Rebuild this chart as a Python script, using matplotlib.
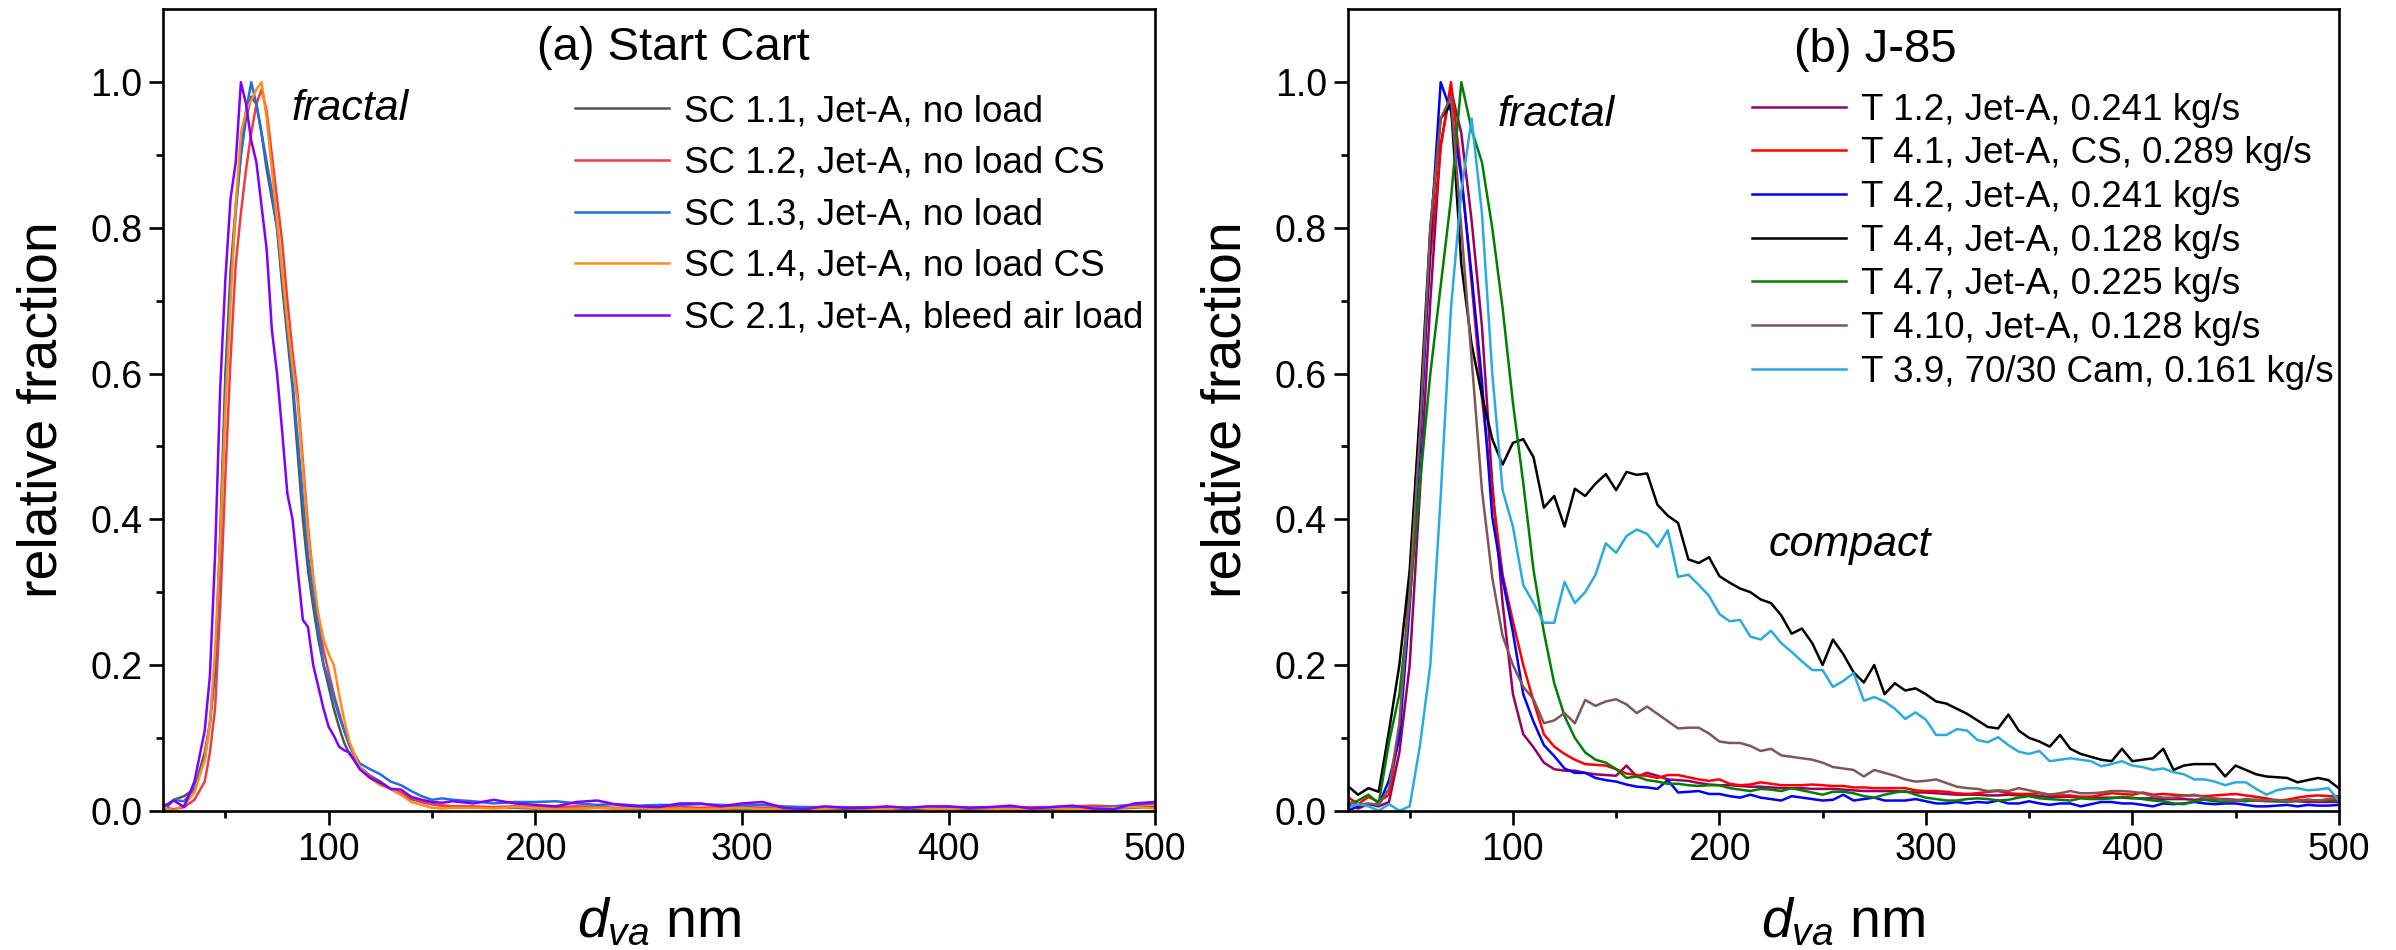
import numpy as np
import matplotlib
matplotlib.use("Agg")
import matplotlib.pyplot as plt

plt.rcParams['font.family'] = ['Liberation Sans', 'DejaVu Sans']
plt.rcParams['mathtext.fontset'] = 'custom'
plt.rcParams['mathtext.rm'] = 'Liberation Sans'
plt.rcParams['mathtext.it'] = 'Liberation Sans:italic'

# ---------------- data: panel (a) Start Cart ----------------
x_left = np.concatenate([np.arange(20, 41, 5), np.arange(42.5, 110.1, 2.5),
                         np.arange(115, 161, 5), np.arange(170, 501, 10)])

sc11 = [0.0, 0.015, 0.02, 0.03, 0.08,
        0.12, 0.19, 0.38, 0.60, 0.74, 0.83, 0.90, 0.95, 0.98, 0.97, 0.93, 0.88, 0.84, 0.80,
        0.72, 0.65, 0.58, 0.49, 0.40, 0.33, 0.28, 0.235, 0.20, 0.17, 0.14, 0.115, 0.093, 0.078,
        0.06, 0.048, 0.04, 0.03, 0.022, 0.016, 0.012, 0.009, 0.007, 0.006,
        0.005, 0.004, 0.004, 0.003, 0.004, 0.003, 0.004, 0.003, 0.003, 0.002, 0.003, 0.003,
        0.002, 0.003, 0.002, 0.002, 0.002, 0.003, 0.002, 0.002, 0.003, 0.002, 0.003, 0.002,
        0.002, 0.003, 0.002, 0.002, 0.003, 0.003, 0.002, 0.003, 0.004, 0.005]
sc12 = [0.005, 0.002, 0.005, 0.015, 0.04,
        0.08, 0.14, 0.28, 0.46, 0.62, 0.75, 0.82, 0.88, 0.93, 0.97, 0.99, 0.96, 0.90, 0.84,
        0.78, 0.70, 0.63, 0.57, 0.48, 0.39, 0.32, 0.26, 0.22, 0.19, 0.16, 0.135, 0.11, 0.09,
        0.06, 0.047, 0.037, 0.03, 0.025, 0.018, 0.012, 0.009, 0.007, 0.006,
        0.006, 0.005, 0.006, 0.005, 0.005, 0.006, 0.005, 0.004, 0.005, 0.006, 0.005, 0.004,
        0.005, 0.005, 0.004, 0.004, 0.005, 0.004, 0.004, 0.005, 0.004, 0.004, 0.005, 0.005,
        0.004, 0.005, 0.004, 0.005, 0.005, 0.006, 0.007, 0.006, 0.008, 0.009]
sc13 = [0.0, 0.015, 0.013, 0.03, 0.07,
        0.12, 0.20, 0.36, 0.58, 0.72, 0.82, 0.90, 0.96, 1.0, 0.97, 0.93, 0.89, 0.85, 0.80,
        0.73, 0.66, 0.59, 0.51, 0.43, 0.35, 0.30, 0.25, 0.20, 0.18, 0.155, 0.13, 0.11, 0.09,
        0.065, 0.057, 0.05, 0.04, 0.035, 0.027, 0.02, 0.015, 0.017, 0.015,
        0.013, 0.01, 0.012, 0.012, 0.013, 0.01, 0.008, 0.009, 0.007, 0.008, 0.008, 0.009,
        0.008, 0.007, 0.008, 0.006, 0.005, 0.005, 0.005, 0.004, 0.005, 0.004, 0.004, 0.005,
        0.004, 0.004, 0.003, 0.003, 0.004, 0.005, 0.004, 0.006, 0.008, 0.012]
sc14 = [0.005, 0.0, 0.008, 0.025, 0.07,
        0.12, 0.22, 0.37, 0.55, 0.70, 0.83, 0.93, 0.96, 0.975, 0.99, 1.0, 0.95, 0.88, 0.81,
        0.74, 0.67, 0.61, 0.56, 0.47, 0.38, 0.32, 0.27, 0.235, 0.215, 0.20, 0.16, 0.125, 0.095,
        0.06, 0.045, 0.035, 0.03, 0.022, 0.012, 0.008, 0.004, 0.003, 0.004,
        0.004, 0.003, 0.005, 0.004, 0.002, 0.003, 0.004, 0.003, 0.004, 0.002, 0.003, 0.002,
        0.003, 0.004, 0.002, 0.003, 0.002, 0.003, 0.004, 0.003, 0.002, 0.005, 0.003, 0.002,
        0.004, 0.003, 0.002, 0.003, 0.004, 0.002, 0.003, 0.004, 0.005, 0.003]
sc21 = [0.006, 0.014, 0.005, 0.04, 0.11,
        0.185, 0.35, 0.58, 0.73, 0.84, 0.89, 1.0, 0.97, 0.92, 0.89, 0.83, 0.77, 0.66, 0.60,
        0.52, 0.435, 0.40, 0.33, 0.262, 0.252, 0.20, 0.17, 0.14, 0.115, 0.103, 0.088, 0.083, 0.08,
        0.057, 0.045, 0.038, 0.03, 0.029, 0.019, 0.015, 0.012, 0.011, 0.013,
        0.01, 0.015, 0.01, 0.008, 0.006, 0.012, 0.014, 0.008, 0.006, 0.005, 0.01, 0.01,
        0.006, 0.01, 0.012, 0.004, 0.002, 0.006, 0.004, 0.004, 0.006, 0.004, 0.006, 0.006,
        0.004, 0.005, 0.007, 0.003, 0.005, 0.007, 0.003, 0.002, 0.01, 0.012]

left_labels = ["SC 1.1, Jet-A, no load", "SC 1.2, Jet-A, no load CS",
               "SC 1.3, Jet-A, no load", "SC 1.4, Jet-A, no load CS",
               "SC 2.1, Jet-A, bleed air load"]
left_colors = ["#555555", "#f03c3c", "#1f6fdc", "#ff8c1a", "#8000ff"]

# ---------------- data: panel (b) J-85 ----------------
x_right = np.arange(20, 501, 5)

t12 = [0.009, 0.003, 0.009, 0.006, 0.012, 0.08, 0.20, 0.44, 0.70, 0.915,
       0.99, 0.93, 0.81, 0.665, 0.449, 0.285, 0.16, 0.105, 0.087, 0.066,
       0.057, 0.055, 0.055, 0.052, 0.05, 0.049, 0.048, 0.062, 0.047, 0.052,
       0.048, 0.043, 0.042, 0.041, 0.038, 0.036, 0.035, 0.035, 0.034, 0.033,
       0.033, 0.032, 0.031, 0.031, 0.031, 0.03, 0.03, 0.03, 0.029, 0.028,
       0.027, 0.027, 0.027, 0.027, 0.026, 0.025, 0.025, 0.024, 0.023, 0.022,
       0.022, 0.022, 0.021, 0.021, 0.022, 0.021, 0.021, 0.02, 0.019, 0.019,
       0.019, 0.019, 0.019, 0.018, 0.018, 0.018, 0.017, 0.017, 0.017, 0.016,
       0.016, 0.016, 0.015, 0.016, 0.016, 0.016, 0.015, 0.014, 0.014, 0.013,
       0.013, 0.013, 0.013, 0.012, 0.012, 0.012, 0.012]
t41 = [0.019, 0.009, 0.019, 0.012, 0.022, 0.108, 0.32, 0.54, 0.76, 0.91,
       1.0, 0.875, 0.724, 0.567, 0.436, 0.324, 0.26, 0.20, 0.15, 0.105,
       0.088, 0.078, 0.07, 0.064, 0.063, 0.062, 0.057, 0.051, 0.049, 0.048,
       0.045, 0.049, 0.049, 0.046, 0.043, 0.041, 0.043, 0.037, 0.035, 0.036,
       0.039, 0.037, 0.035, 0.035, 0.035, 0.036, 0.035, 0.034, 0.034, 0.032,
       0.032, 0.031, 0.031, 0.031, 0.031, 0.028, 0.027, 0.027, 0.026, 0.024,
       0.023, 0.024, 0.026, 0.027, 0.024, 0.023, 0.023, 0.024, 0.022, 0.021,
       0.021, 0.019, 0.019, 0.022, 0.024, 0.023, 0.022, 0.025, 0.022, 0.023,
       0.022, 0.021, 0.021, 0.02, 0.021, 0.022, 0.023, 0.021, 0.019, 0.017,
       0.014, 0.015, 0.018, 0.02, 0.021, 0.02, 0.02]
t42 = [0.0, 0.006, 0.009, 0.008, 0.042, 0.10, 0.28, 0.50, 0.78, 1.0,
       0.96, 0.87, 0.735, 0.59, 0.403, 0.318, 0.245, 0.16, 0.122, 0.09,
       0.075, 0.058, 0.052, 0.052, 0.045, 0.042, 0.04, 0.036, 0.033, 0.032,
       0.03, 0.042, 0.025, 0.026, 0.027, 0.023, 0.023, 0.02, 0.018, 0.022,
       0.018, 0.016, 0.014, 0.02, 0.018, 0.016, 0.014, 0.015, 0.022, 0.014,
       0.016, 0.018, 0.014, 0.014, 0.014, 0.016, 0.013, 0.01, 0.01, 0.012,
       0.01, 0.012, 0.011, 0.014, 0.01, 0.01, 0.013, 0.01, 0.008, 0.01,
       0.01, 0.006, 0.009, 0.012, 0.012, 0.01, 0.01, 0.008, 0.006, 0.01,
       0.009, 0.01, 0.012, 0.01, 0.009, 0.01, 0.01, 0.008, 0.006, 0.006,
       0.007, 0.008, 0.006, 0.008, 0.007, 0.007, 0.008]
t44 = [0.034, 0.022, 0.031, 0.026, 0.11, 0.20, 0.33, 0.55, 0.80, 0.95,
       0.97, 0.75, 0.64, 0.57, 0.51, 0.475, 0.505, 0.51, 0.485, 0.416,
       0.432, 0.39, 0.442, 0.432, 0.449, 0.462, 0.44, 0.465, 0.461, 0.463,
       0.42, 0.405, 0.395, 0.345, 0.34, 0.348, 0.322, 0.313, 0.305, 0.30,
       0.29, 0.285, 0.268, 0.243, 0.25, 0.23, 0.20, 0.235, 0.215, 0.19,
       0.176, 0.20, 0.16, 0.175, 0.165, 0.168, 0.16, 0.15, 0.147, 0.14,
       0.133, 0.124, 0.115, 0.113, 0.132, 0.11, 0.10, 0.095, 0.088, 0.104,
       0.085, 0.078, 0.074, 0.07, 0.068, 0.085, 0.068, 0.07, 0.072, 0.085,
       0.056, 0.062, 0.064, 0.064, 0.064, 0.047, 0.062, 0.056, 0.05, 0.047,
       0.046, 0.045, 0.039, 0.042, 0.045, 0.042, 0.031]
t47 = [0.009, 0.014, 0.022, 0.01, 0.094, 0.16, 0.29, 0.45, 0.60, 0.72,
       0.84, 1.0, 0.935, 0.89, 0.80, 0.69, 0.56, 0.45, 0.33, 0.245,
       0.175, 0.13, 0.10, 0.08, 0.07, 0.066, 0.057, 0.045, 0.047, 0.042,
       0.04, 0.037, 0.037, 0.035, 0.034, 0.035, 0.035, 0.031, 0.029, 0.027,
       0.03, 0.029, 0.027, 0.031, 0.028, 0.025, 0.022, 0.026, 0.026, 0.024,
       0.02, 0.018, 0.022, 0.025, 0.027, 0.022, 0.018, 0.016, 0.014, 0.014,
       0.016, 0.017, 0.016, 0.014, 0.015, 0.018, 0.02, 0.017, 0.016, 0.015,
       0.014, 0.017, 0.016, 0.016, 0.017, 0.019, 0.018, 0.016, 0.014, 0.013,
       0.01, 0.009, 0.013, 0.015, 0.013, 0.012, 0.014, 0.013, 0.015, 0.014,
       0.013, 0.012, 0.014, 0.015, 0.014, 0.015, 0.014]
t410 = [0.012, 0.008, 0.01, 0.008, 0.03, 0.12, 0.30, 0.52, 0.80, 0.95,
        0.98, 0.80, 0.62, 0.44, 0.32, 0.24, 0.20, 0.17, 0.153, 0.12,
        0.124, 0.134, 0.12, 0.152, 0.144, 0.15, 0.153, 0.146, 0.134, 0.143,
        0.133, 0.123, 0.113, 0.114, 0.114, 0.106, 0.095, 0.093, 0.093, 0.089,
        0.082, 0.085, 0.076, 0.074, 0.072, 0.07, 0.066, 0.06, 0.058, 0.056,
        0.047, 0.056, 0.052, 0.048, 0.043, 0.04, 0.041, 0.043, 0.038, 0.033,
        0.031, 0.03, 0.027, 0.028, 0.027, 0.031, 0.028, 0.025, 0.022, 0.024,
        0.027, 0.024, 0.024, 0.025, 0.027, 0.027, 0.026, 0.024, 0.02, 0.018,
        0.018, 0.02, 0.022, 0.018, 0.017, 0.015, 0.014, 0.016, 0.015, 0.014,
        0.015, 0.013, 0.014, 0.015, 0.014, 0.016, 0.018]
t39 = [0.004, 0.009, 0.006, 0.0, 0.009, 0.0, 0.006, 0.09, 0.20, 0.43,
       0.69, 0.85, 0.95, 0.82, 0.60, 0.44, 0.39, 0.31, 0.285, 0.258,
       0.258, 0.314, 0.285, 0.30, 0.324, 0.367, 0.354, 0.377, 0.386, 0.38,
       0.362, 0.385, 0.321, 0.324, 0.31, 0.295, 0.27, 0.26, 0.262, 0.239,
       0.235, 0.247, 0.23, 0.218, 0.205, 0.193, 0.193, 0.17, 0.178, 0.189,
       0.151, 0.156, 0.15, 0.14, 0.126, 0.135, 0.125, 0.104, 0.104, 0.112,
       0.11, 0.097, 0.094, 0.101, 0.09, 0.081, 0.078, 0.082, 0.068, 0.07,
       0.072, 0.07, 0.068, 0.061, 0.064, 0.068, 0.062, 0.06, 0.056, 0.058,
       0.053, 0.05, 0.043, 0.043, 0.04, 0.035, 0.039, 0.039, 0.03, 0.022,
       0.028, 0.031, 0.031, 0.028, 0.029, 0.031, 0.014]

right_labels = ["T 1.2, Jet-A, 0.241 kg/s", "T 4.1, Jet-A, CS, 0.289 kg/s",
                "T 4.2, Jet-A, 0.241 kg/s", "T 4.4, Jet-A, 0.128 kg/s",
                "T 4.7, Jet-A, 0.225 kg/s", "T 4.10, Jet-A, 0.128 kg/s",
                "T 3.9, 70/30 Cam, 0.161 kg/s"]
right_colors = ["#990066", "#ff0000", "#0000ff", "#000000", "#008000", "#7f5855", "#29abe2"]

x_ticks = [100, 200, 300, 400, 500]
y_ticks = [0.0, 0.2, 0.4, 0.6, 0.8, 1.0]

# ---------------- figure ----------------
fig = plt.figure(figsize=(23.96, 9.5), dpi=100)
ax1 = fig.add_axes([0.0682, 0.1466, 0.4139, 0.8436])
ax2 = fig.add_axes([0.5625, 0.1466, 0.4136, 0.8436])


def style(ax):
    ax.set_xlim(20, 500)
    ax.set_ylim(0, 1.1)
    ax.set_xticks(x_ticks)
    ax.set_xticks(np.arange(50, 500, 100), minor=True)
    ax.set_yticks(y_ticks)
    ax.set_yticks(np.arange(0.1, 1.01, 0.2), minor=True)
    ax.set_yticklabels([f"{v:.1f}" for v in y_ticks])
    for s in ax.spines.values():
        s.set_linewidth(1.9)
    ax.tick_params(which='major', direction='out', length=10, width=1.9,
                   labelsize=27, pad=5, top=False, right=False)
    ax.tick_params(which='minor', direction='out', length=5, width=1.9,
                   top=False, right=False)
    ax.set_ylabel("relative fraction", fontsize=40, va='center')
    ax.yaxis.set_label_coords(-0.122, 0.5)
    ax.set_xlabel(r"$d_{va}$ nm", fontsize=40, va='center')
    ax.xaxis.set_label_coords(0.5, -0.14)


for ys, lab, col in zip([sc11, sc12, sc13, sc14, sc21], left_labels, left_colors):
    ax1.plot(x_left, ys, color=col, lw=1.8, label=lab)
style(ax1)
ax1.text(0.514, 0.952, "(a) Start Cart", transform=ax1.transAxes,
         fontsize=34, ha='center', va='center')
ax1.text(0.188, 0.875, "fractal", transform=ax1.transAxes, fontsize=31,
         style='italic', ha='center', va='center')
ax1.legend(loc='upper left', bbox_to_anchor=(0.415, 0.894), frameon=False,
           fontsize=26.5, handlelength=2.55, handletextpad=0.4, labelspacing=0.45,
           borderpad=0, borderaxespad=0)

for ys, lab, col in zip([t12, t41, t42, t44, t47, t410, t39], right_labels, right_colors):
    ax2.plot(x_right, ys, color=col, lw=1.8, label=lab)
style(ax2)
ax2.text(0.532, 0.949, "(b) J-85", transform=ax2.transAxes,
         fontsize=34, ha='center', va='center')
ax2.text(0.210, 0.868, "fractal", transform=ax2.transAxes, fontsize=31,
         style='italic', ha='center', va='center')
ax2.text(0.507, 0.332, "compact", transform=ax2.transAxes, fontsize=31,
         style='italic', ha='center', va='center')
ax2.legend(loc='upper left', bbox_to_anchor=(0.408, 0.896), frameon=False,
           fontsize=26.5, handlelength=2.55, handletextpad=0.4, labelspacing=0.235,
           borderpad=0, borderaxespad=0)

fig.savefig("out.png", dpi=100)
